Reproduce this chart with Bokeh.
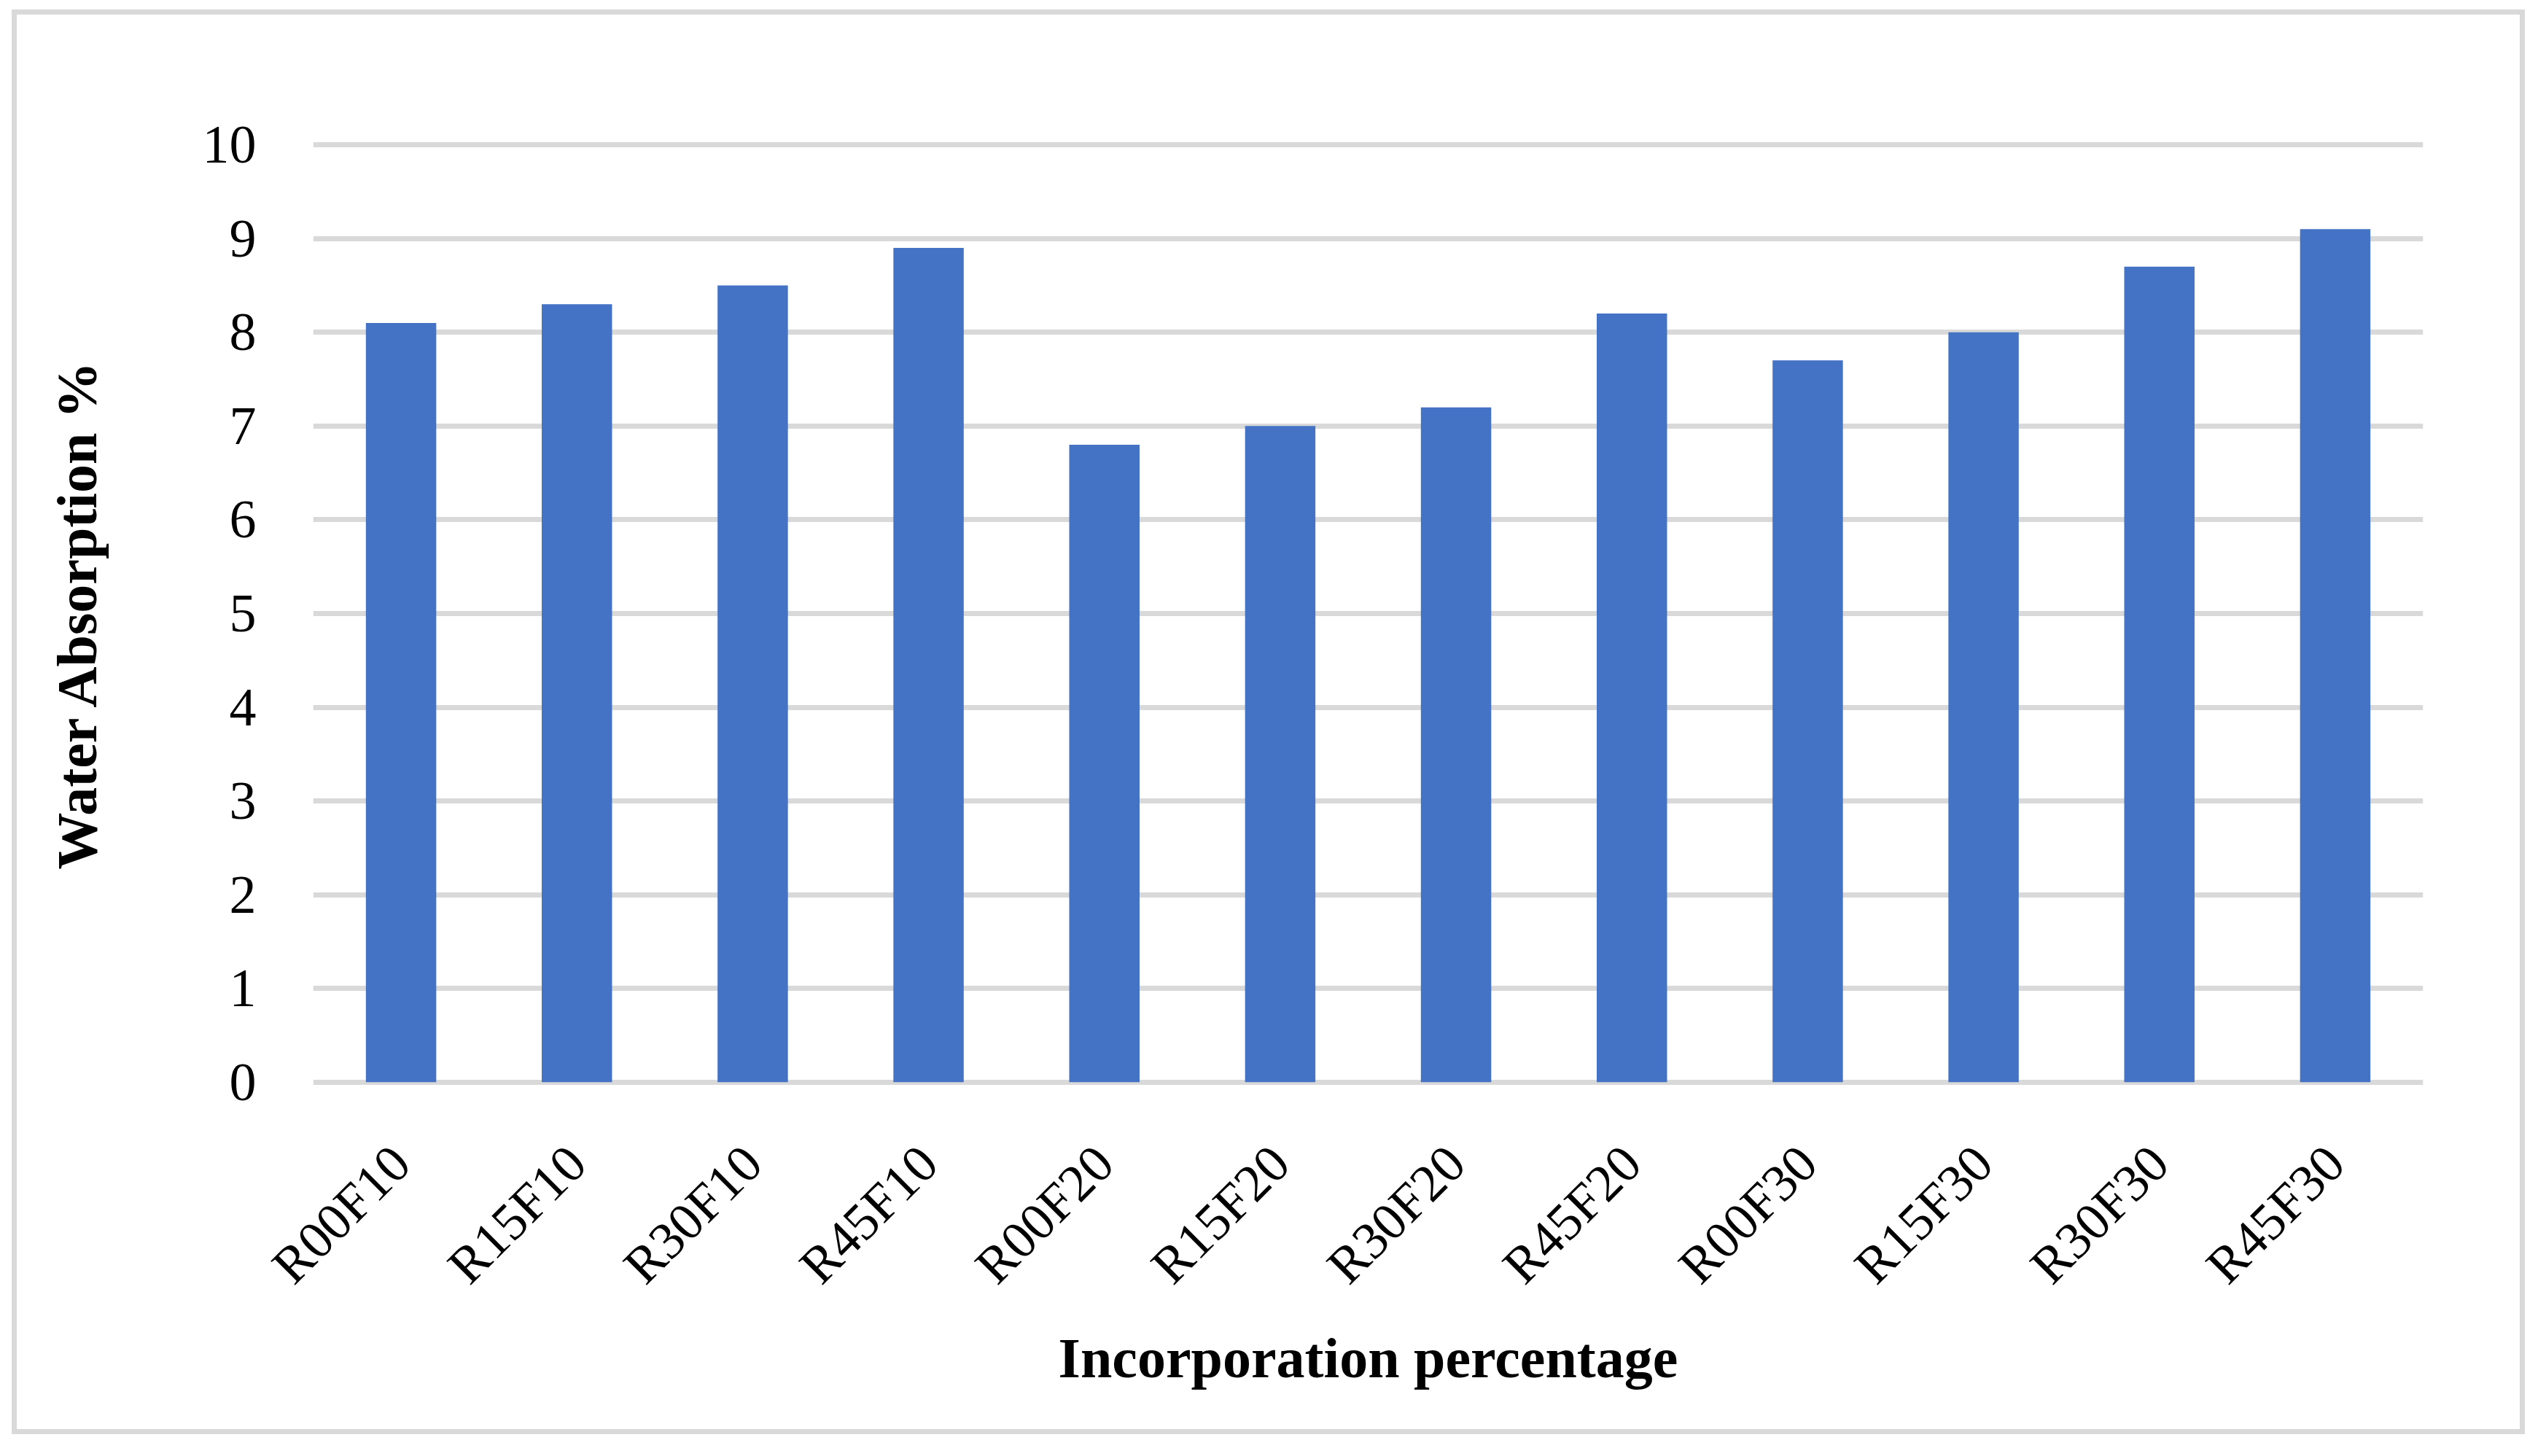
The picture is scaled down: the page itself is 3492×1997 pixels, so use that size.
import math
from bokeh.plotting import figure
from bokeh.models import FactorRange, Range1d, FixedTicker
from bokeh.embed import file_html
from bokeh.resources import INLINE

categories = ["R00F10", "R15F10", "R30F10", "R45F10",
              "R00F20", "R15F20", "R30F20", "R45F20",
              "R00F30", "R15F30", "R30F30", "R45F30"]
water_absorption = [8.1, 8.3, 8.5, 8.9, 6.8, 7.0, 7.2, 8.2, 7.7, 8.0, 8.7, 9.1]
y_ticks = [0, 1, 2, 3, 4, 5, 6, 7, 8, 9, 10]

FONT = "Liberation Serif"

p = figure(x_range=FactorRange(*categories), y_range=Range1d(-0.04, 10.04),
           width=3433, height=1940, output_backend="svg", toolbar_location=None,
           min_border_left=406, min_border_right=133,
           min_border_top=173, min_border_bottom=471)
p.margin = (20, 0, 0, 23)
p.styles = {"outline": "7px solid #D9D9D9"}

p.vbar(x=categories, top=water_absorption, width=0.40,
       fill_color="#4472C4", line_color=None)

p.outline_line_color = None
p.xgrid.grid_line_color = None
p.ygrid.grid_line_color = "#D9D9D9"
p.ygrid.grid_line_width = 7

p.yaxis.ticker = FixedTicker(ticks=y_ticks)
for ax in (p.xaxis[0], p.yaxis[0]):
    ax.axis_line_color = None
    ax.major_tick_line_color = None
    ax.minor_tick_line_color = None
    ax.major_tick_out = 0
    ax.major_tick_in = 0
    ax.major_label_text_font = FONT
    ax.major_label_text_font_size = "72px"
    ax.major_label_text_color = "#000000"
    ax.axis_label_text_font = FONT
    ax.axis_label_text_font_style = "bold"
    ax.axis_label_text_font_size = "78px"
    ax.axis_label_text_color = "#000000"

p.yaxis.major_label_text_font_size = "74px"
p.yaxis.axis_label = "Water Absorption %"
p.yaxis.major_label_standoff = 78
p.yaxis.axis_label_standoff = 126

p.xaxis.axis_label = "Incorporation percentage"
p.xaxis.major_label_orientation = math.pi / 4
p.xaxis.major_label_standoff = 94
p.xaxis.axis_label_standoff = 12

open("out.html", "w").write(file_html(p, INLINE))
